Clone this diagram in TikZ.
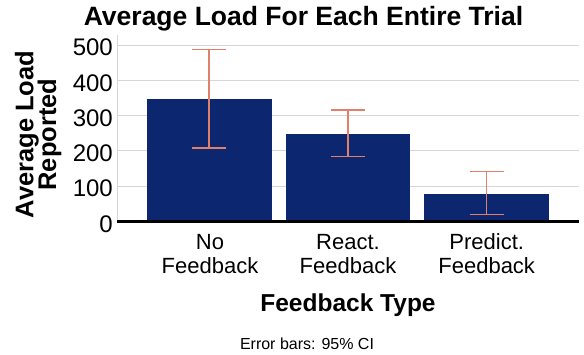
\documentclass[tikz,border=0pt]{standalone}
\usepackage{fontspec}
\setmainfont{Liberation Sans}
\definecolor{barblue}{HTML}{0C2670}
\definecolor{errc}{HTML}{E0806A}
\definecolor{gridc}{HTML}{D6D6D6}
\begin{document}
\begin{tikzpicture}[x=1pt,y=-1pt,
  barfill/.style={fill=barblue},
  errbar/.style={draw=errc,line width=1.4pt},
  gridline/.style={draw=gridc,line width=1pt},
  ticklab/.style={anchor=east,font=\fontsize{24}{24}\selectfont,inner sep=0pt},
  catlab/.style={anchor=base,font=\fontsize{22}{22}\selectfont,inner sep=0pt},
  ylab/.style={anchor=base,rotate=90,font=\fontsize{25.5}{25.5}\selectfont\bfseries,inner sep=0pt}]
\useasboundingbox (0,0) rectangle (584,354);
% gridlines
\foreach \v in {100,200,300,400,500}
  \draw[gridline] (117,{221.5-\v*0.353}) -- (579,{221.5-\v*0.353});
\draw[gridline] (117,35) -- (117,221.5);
% bars
\fill[barfill] (146.7,221.5) rectangle (271.7,99);
\fill[barfill] (285.7,221.5) rectangle (410,133.7);
\fill[barfill] (424.3,221.5) rectangle (549,193.7);
% error bars
\foreach \cx/\hi/\lo in {209/49.7/147.8, 348/110/156.7, 486.7/171.7/214.7}{
  \draw[errbar] (\cx,\hi) -- (\cx,\lo);
  \draw[errbar] (\cx-17,\hi) -- (\cx+17,\hi);
  \draw[errbar] (\cx-17,\lo) -- (\cx+17,\lo);
}
% x axis
\draw[line width=2.4pt] (117,221.5) -- (579,221.5);
% tick labels
\foreach \v in {0,100,200,300,400,500}
  \node[ticklab] (t\v) at (113,{224-\v*0.353}) {\v};
% title
\node[anchor=base,font=\fontsize{26.5}{26.5}\selectfont\bfseries,inner sep=0pt] (title) at (303.5,25) {Average Load For Each Entire Trial};
% y label
\node[ylab] (yl1) at (33.3,134.5) {Average Load};
\node[ylab] (yl2) at (56,134.5) {Reported};
% categories
\node[catlab] (c1a) at (210,249.3) {No};
\node[catlab] (c1b) at (210,273.3) {Feedback};
\node[catlab] (c2a) at (348,249.3) {React.};
\node[catlab] (c2b) at (348,273.3) {Feedback};
\node[catlab] (c3a) at (486.7,249.3) {Predict.};
\node[catlab] (c3b) at (486.7,273.3) {Feedback};
% x label
\node[anchor=base,font=\fontsize{24.5}{24.5}\selectfont\bfseries,inner sep=0pt] (xl) at (348,311.7) {Feedback Type};
\node[anchor=base,font=\fontsize{16}{16}\selectfont,inner sep=0pt] (note) at (307,349.3) {Error bars: 95\% CI};
\end{tikzpicture}
\end{document}
